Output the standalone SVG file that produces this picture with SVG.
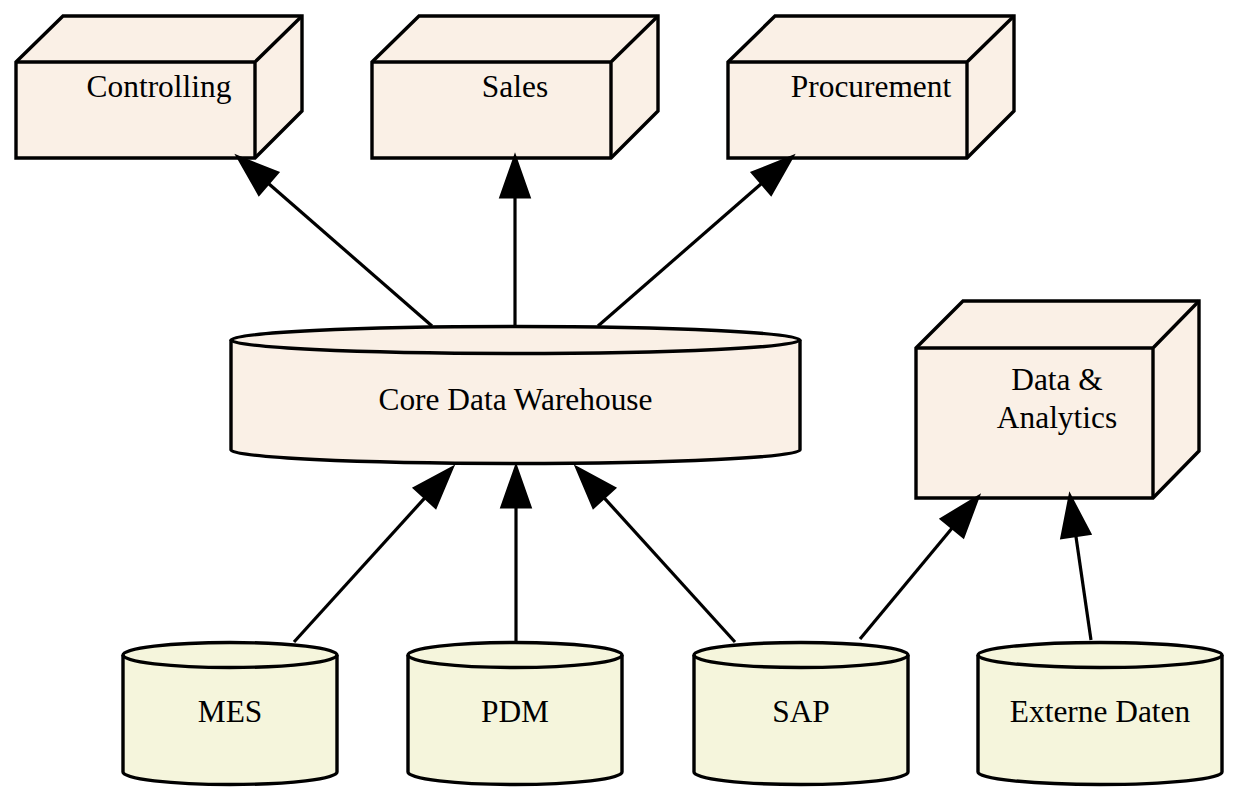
<svg xmlns="http://www.w3.org/2000/svg" width="1240" height="800" viewBox="0 0 1240 800">
<style>
.box{fill:#faf0e6;stroke:#000;stroke-width:3.4;stroke-linejoin:miter}
.cylA{fill:#faf0e6;stroke:#000;stroke-width:3.4}
.cylB{fill:#f5f5dc;stroke:#000;stroke-width:3.4}
.ln{fill:none;stroke:#000;stroke-width:3.4}
.edge{fill:none;stroke:#000;stroke-width:3.2}
.head{fill:#000;stroke:#000;stroke-width:3.2;stroke-linejoin:miter}
text{font-family:"Liberation Serif","Times New Roman",serif;font-size:31.4px;fill:#000;text-anchor:middle}
</style>
<rect width="1240" height="800" fill="#fff"/>
<g id="controlling">
<path class="box" d="M16,62 L63,16 L302,16 L302,111 L255,158 L16,158 Z"/>
<path class="ln" d="M16,62 L255,62 L302,16 M255,62 L255,158"/>
<text x="159" y="97">Controlling</text>
</g>
<g id="sales">
<path class="box" d="M372,62 L419,16 L658,16 L658,111 L611,158 L372,158 Z"/>
<path class="ln" d="M372,62 L611,62 L658,16 M611,62 L611,158"/>
<text x="515" y="97">Sales</text>
</g>
<g id="procurement">
<path class="box" d="M728,62 L775,16 L1014,16 L1014,111 L967,158 L728,158 Z"/>
<path class="ln" d="M728,62 L967,62 L1014,16 M967,62 L967,158"/>
<text x="871" y="97">Procurement</text>
</g>
<g id="cdw">
<path class="cylA" d="M231,340 A284.5,13.5 0 0 1 800,340 L800,450 A284.5,13.5 0 0 1 231,450 Z"/>
<path class="ln" d="M231,340 A284.5,13.5 0 0 0 800,340"/>
<text x="515.5" y="410">Core Data Warehouse</text>
</g>
<g id="data_analytics">
<path class="box" d="M916,348 L963,301 L1199,301 L1199,451 L1153,498 L916,498 Z"/>
<path class="ln" d="M916,348 L1153,348 L1199,301 M1153,348 L1153,498"/>
<text x="1057" y="390">Data &amp;</text>
<text x="1057" y="428">Analytics</text>
</g>
<g id="mes">
<path class="cylB" d="M123,655 A107,12.5 0 0 1 337,655 L337,772 A107,12.5 0 0 1 123,772 Z"/>
<path class="ln" d="M123,655 A107,12.5 0 0 0 337,655"/>
<text x="230" y="722">MES</text>
</g>
<g id="pdm">
<path class="cylB" d="M408,655 A107,12.5 0 0 1 622,655 L622,772 A107,12.5 0 0 1 408,772 Z"/>
<path class="ln" d="M408,655 A107,12.5 0 0 0 622,655"/>
<text x="515" y="722">PDM</text>
</g>
<g id="sap">
<path class="cylB" d="M694,655 A107,12.5 0 0 1 908,655 L908,772 A107,12.5 0 0 1 694,772 Z"/>
<path class="ln" d="M694,655 A107,12.5 0 0 0 908,655"/>
<text x="801" y="722">SAP</text>
</g>
<g id="externe_daten">
<path class="cylB" d="M978,655 A122,12.5 0 0 1 1222,655 L1222,772 A122,12.5 0 0 1 978,772 Z"/>
<path class="ln" d="M978,655 A122,12.5 0 0 0 1222,655"/>
<text x="1100" y="722">Externe Daten</text>
</g>
<g id="connectors">
<path class="edge" d="M432,326 L268.2,183.3"/>
<polygon class="head" points="238,157 277.4,172.7 259,193.9"/>
<path class="edge" d="M515,327 L515,197"/>
<polygon class="head" points="515,157 529,197 501,197"/>
<path class="edge" d="M598,326 L761.8,183.3"/>
<polygon class="head" points="792,157 771,193.9 752.6,172.7"/>
<path class="edge" d="M294,642 L425.1,497.6"/>
<polygon class="head" points="452,468 435.5,507 414.7,488.2"/>
<path class="edge" d="M516,642 L516,507"/>
<polygon class="head" points="516,467 530,507 502,507"/>
<path class="edge" d="M735,642 L603.9,497.6"/>
<polygon class="head" points="577,468 614.3,488.2 593.5,507"/>
<path class="edge" d="M860,639 L952.4,527.8"/>
<polygon class="head" points="978,497 963.2,536.7 941.6,518.9"/>
<path class="edge" d="M1091,640 L1075.8,535.6"/>
<polygon class="head" points="1070,496 1089.7,533.6 1061.9,537.6"/>
</g>
</svg>
